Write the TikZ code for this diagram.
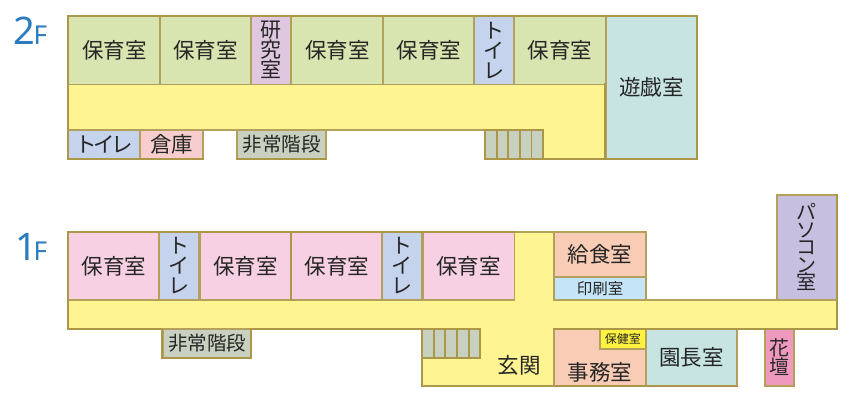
\documentclass[tikz,border=0pt]{standalone}
\usepackage{fontspec}
\setmainfont{Noto Sans CJK JP}
\newfontfamily\latinlabel{Noto Sans}
\definecolor{wall}{HTML}{AC9648}
\definecolor{wallthin}{HTML}{B3A15B}
\definecolor{cgreen}{HTML}{D9E5B0}
\definecolor{cpink}{HTML}{F7D1E3}
\definecolor{cblue}{HTML}{C5D4EC}
\definecolor{cpurple}{HTML}{E0C7E0}
\definecolor{cyellow}{HTML}{FFF492}
\definecolor{cteal}{HTML}{C7E4E3}
\definecolor{cpeach}{HTML}{F8CCB5}
\definecolor{csky}{HTML}{C4E5F8}
\definecolor{cpc}{HTML}{C6BFDF}
\definecolor{cgray}{HTML}{C8D0C0}
\definecolor{crose}{HTML}{F7CECD}
\definecolor{cbright}{HTML}{FFF33F}
\definecolor{cflower}{HTML}{EF99BF}
\definecolor{floorblue}{HTML}{2B7BBF}
\tikzset{
  roomwall/.style={draw=wallthin,line width=1.9pt},
  heavy/.style={draw=wall,line width=2.3pt,line cap=rect},
  txt/.style={inner sep=0pt,text=black!85,align=center,xshift=0.5pt,font=\fontsize{21.5}{21.5}\selectfont},
  stack/.style={inner sep=0pt,text=black!85,align=center,font=\fontsize{21}{20}\selectfont},
  stepbox/.style={draw=wall,line width=1.8pt,fill=cgray},
  floorlabel/.style={inner sep=0pt,text=floorblue,anchor=base west},
}
% id, x1, y1, x2, y2, fill, text style, text
\newcommand{\room}[8]{\node[roomwall,fill=#6,#7,minimum width={(#4-#2)*1pt},minimum height={(#5-#3)*1pt}] (#1) at ({(#2+#4)/2},{(#3+#5)/2}) {#8};}
\newcommand{\tightkana}{ト\kern-3.5ptイ\kern-3.5ptレ}
\begin{document}
\begin{tikzpicture}[x=1pt,y=-1pt]
\useasboundingbox (0,0) rectangle (850,400);
% ---- 2F
\node[floorlabel,font=\latinlabel\fontsize{38}{38}\selectfont] (two) at (13.5,44) {2};
\node[floorlabel,font=\latinlabel\fontsize{26}{26}\selectfont] (twof) at (33.5,44) {F};
\draw[roomwall,fill=cyellow] (68,84.5) -- (605,84.5) -- (605,159) -- (542.7,159) -- (542.7,130) -- (68,130) -- cycle;
\room{a1}{68}{16}{159.5}{84.5}{cgreen}{txt}{保育室}
\room{a2}{159.5}{16}{250.7}{84.5}{cgreen}{txt}{保育室}
\room{a3}{250.7}{16}{291}{84.5}{cpurple}{stack}{研\\究\\室}
\room{a4}{291}{16}{382.5}{84.5}{cgreen}{txt}{保育室}
\room{a5}{382.5}{16}{474}{84.5}{cgreen}{txt}{保育室}
\room{a6}{474}{16}{514}{84.5}{cblue}{stack}{ト\\イ\\レ}
\room{a7}{514}{16}{605.3}{84.5}{cgreen}{txt}{保育室}
\room{a8}{605.3}{16}{697}{159}{cteal}{txt}{遊戯室}
\room{a9}{68}{130}{139.7}{159}{cblue}{txt}{\tightkana}
\room{a10}{139.7}{130}{202.7}{159}{crose}{txt}{倉庫}
\room{a11}{236.7}{130}{325.7}{159}{cgray}{txt,font=\fontsize{19.5}{20}\selectfont}{非常階段}
\node[stepbox,minimum width=11.5pt,minimum height=29pt] (s1) at (491,144.5) {};
\node[stepbox,minimum width=11.5pt,minimum height=29pt] (s2) at (502.5,144.5) {};
\node[stepbox,minimum width=11.5pt,minimum height=29pt] (s3) at (514,144.5) {};
\node[stepbox,minimum width=11.5pt,minimum height=29pt] (s4) at (525.7,144.5) {};
\node[stepbox,minimum width=11.5pt,minimum height=29pt] (s5) at (537.2,144.5) {};
\draw[heavy] (68,159) -- (68,16) -- (697,16) -- (697,159) -- (605.3,159) -- (605.3,84.5);
\draw[heavy] (605.3,159) -- (485.5,159);
\draw[heavy] (68,159) -- (202.7,159);
\draw[heavy] (236.7,159) -- (325.7,159);
% ---- 1F
\node[floorlabel,font=\latinlabel\fontsize{38}{38}\selectfont] (one) at (15.5,260) {1};
\node[floorlabel,font=\latinlabel\fontsize{26}{26}\selectfont] (onef) at (33.5,260) {F};
\draw[roomwall,fill=cyellow] (68,300) -- (514,300) -- (514,232) -- (553.7,232) -- (553.7,300) -- (836.7,300) -- (836.7,328.7) -- (553.7,328.7) -- (553.7,386) -- (422.3,386) -- (422.3,328.7) -- (68,328.7) -- cycle;
\room{b1}{68}{232}{159.3}{300}{cpink}{txt}{保育室}
\room{b2}{159.3}{232}{199.3}{300}{cblue}{stack}{ト\\イ\\レ}
\room{b3}{199.3}{232}{291}{300}{cpink}{txt}{保育室}
\room{b4}{291}{232}{382.3}{300}{cpink}{txt}{保育室}
\room{b5}{382.3}{232}{422.3}{300}{cblue}{stack}{ト\\イ\\レ}
\room{b6}{422.3}{232}{514}{300}{cpink}{txt}{保育室}
\room{b7}{553.7}{232}{645.3}{277.3}{cpeach}{txt}{給食室}
\room{b8}{553.7}{277.3}{645.3}{300}{csky}{txt,font=\fontsize{15.5}{16}\selectfont}{印刷室}
\room{b9}{776.7}{194.7}{836.7}{300}{cpc}{stack,font=\fontsize{20}{17.5}\selectfont}{パ\\ソ\\コ\\ン\\室}
\room{b10}{162.3}{328.7}{250.7}{357.7}{cgray}{txt,font=\fontsize{19.5}{20}\selectfont}{非常階段}
\node[stepbox,minimum width=11.5pt,minimum height=29pt] (t1) at (428,343.2) {};
\node[stepbox,minimum width=11.5pt,minimum height=29pt] (t2) at (439.5,343.2) {};
\node[stepbox,minimum width=11.5pt,minimum height=29pt] (t3) at (451.2,343.2) {};
\node[stepbox,minimum width=11.5pt,minimum height=29pt] (t4) at (462.9,343.2) {};
\node[stepbox,minimum width=11.5pt,minimum height=29pt] (t5) at (474.4,343.2) {};
\node[txt] (entr) at (518.7,365.7) {玄関};
\room{b11}{553.7}{328.7}{645.3}{386}{cpeach}{txt}{}
\node[txt] (jimu) at (599.5,372) {事務室};
\room{b12}{599.3}{328.7}{645.3}{348.7}{cbright}{txt,font=\fontsize{12}{12}\selectfont}{保健室}
\room{b13}{645.3}{328.7}{736.7}{386}{cteal}{txt}{園長室}
\room{b14}{765.3}{328.7}{794}{386}{cflower}{stack,font=\fontsize{20}{18.5}\selectfont}{花\\壇}
\draw[heavy] (514,232) -- (68,232) -- (68,328.7) -- (162.3,328.7);
\draw[heavy] (291,232) -- (291,300);
\draw[heavy] (162.3,328.7) -- (162.3,357.7) -- (250.7,357.7) -- (250.7,328.7) -- (422.3,328.7);
\draw[heavy] (422.3,357.7) -- (422.3,386) -- (736.7,386);
\draw[heavy] (836.7,194.7) -- (836.7,328.7) -- (553.7,328.7);
\end{tikzpicture}
\end{document}
